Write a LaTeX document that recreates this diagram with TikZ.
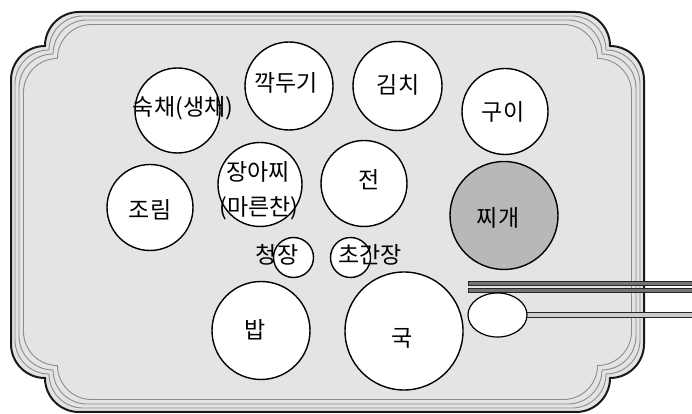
\documentclass[tikz,border=0pt]{standalone}
\usepackage{fontspec}
\usetikzlibrary{shapes.geometric}
\setmainfont{Noto Sans CJK KR}
\definecolor{traybg}{RGB}{228,228,228}
\definecolor{trayline}{RGB}{140,140,140}
\definecolor{stewgray}{RGB}{184,184,184}
\begin{document}
\begin{tikzpicture}[x=1pt,y=1pt,
  tray/.style={insert path={({79+#1},{402-#1}) -- ({576-#1},{402-#1})
     arc[start angle=90,end angle=0,radius=34] arc[start angle=90,end angle=0,radius=34]
     -- ({644-#1},{70+#1})
     arc[start angle=0,end angle=-90,radius=34] arc[start angle=0,end angle=-90,radius=34]
     -- ({79+#1},{2+#1})
     arc[start angle=-90,end angle=-180,radius=34] arc[start angle=-90,end angle=-180,radius=34]
     -- ({11+#1},{334-#1})
     arc[start angle=180,end angle=90,radius=34] arc[start angle=180,end angle=90,radius=34]
     -- cycle}},
  dish/.style={circle,draw=black,line width=1.4pt,fill=white,inner sep=0pt},
  lbl/.style={inner sep=0pt,font=\fontsize{23}{26}\selectfont},
  stick/.style={draw=black!85,line width=0.7pt,fill=black!55}]
\useasboundingbox (0,0) rectangle (692,414);
% tray
\path[fill=traybg,tray=0];
\draw[trayline,line width=0.9pt,tray=4];
\draw[trayline,line width=0.9pt,tray=8];
\draw[trayline,line width=0.9pt,tray=12.5];
\draw[black!90,line width=2pt,tray=0];
% dishes
\node[dish,minimum size=85pt] (sukchae) at (177.5,303.5) {};
\node[dish,minimum size=88pt] (kkakdugi) at (289,328) {};
\node[dish,minimum size=89pt] (kimchi) at (397.5,328) {};
\node[dish,minimum size=86pt] (gui) at (505,302.5) {};
\node[dish,minimum size=108pt,fill=stewgray] (jjigae) at (504,198.5) {};
\node[dish,minimum size=86pt] (jorim) at (150,206.5) {};
\node[dish,minimum size=84pt] (jangajji) at (260,229.5) {};
\node[dish,minimum size=86pt] (jeon) at (364,230.5) {};
\node[dish,minimum size=40pt] (cheongjang) at (293.5,156.5) {};
\node[dish,minimum size=40pt] (choganjang) at (350.5,156.5) {};
\node[dish,minimum size=98pt] (bap) at (261,83.5) {};
\node[dish,minimum size=118pt] (guk) at (404,83) {};
% chopsticks and spoon
\path[stick] (468,128.5) rectangle (692,132.5);
\path[stick] (468,121.8) rectangle (692,125.5);
\path[draw=black!85,line width=0.8pt,fill=black!20] (524,96.6) rectangle (692,101.4);
\node[ellipse,draw=black,line width=1.2pt,fill=white,minimum width=59pt,minimum height=44pt,inner sep=0pt] (spoon) at (497.5,99) {};
% labels
\node[lbl] (t1) at (183,306) {숙채(생채)};
\node[lbl] (t2) at (286,331) {깍두기};
\node[lbl] (t3) at (398,329) {김치};
\node[lbl] (t4) at (503,302) {구이};
\node[lbl] (t5) at (498,196) {찌개};
\node[lbl] (t6) at (150,204) {조림};
\node[lbl] (t7) at (258,242) {장아찌};
\node[lbl] (t8) at (259,206) {(마른찬)};
\node[lbl] (t9) at (369,234) {전};
\node[lbl] (t10) at (277,159) {청장};
\node[lbl] (t11) at (370,159) {초간장};
\node[lbl] (t12) at (255,84) {밥};
\node[lbl] (t13) at (402,76) {국};
\end{tikzpicture}
\end{document}
